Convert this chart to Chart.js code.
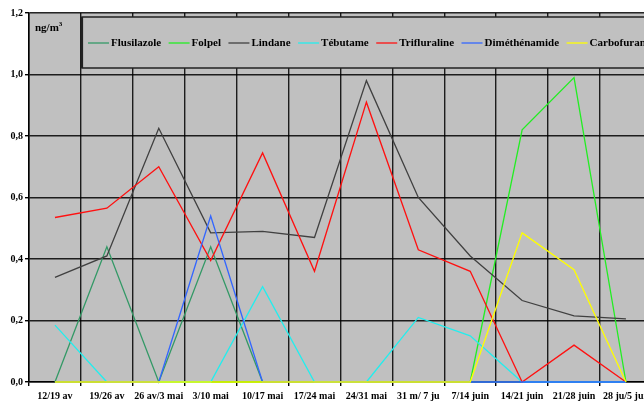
<!DOCTYPE html>
<html>
<head>
<meta charset="utf-8">
<script src="https://cdn.jsdelivr.net/npm/chart.js@4"></script>
<style>
  html, body { margin: 0; padding: 0; background: #fff; overflow: hidden; }
  #wrap { width: 653px; height: 403px; }
</style>
</head>
<body>
<div id="wrap"><canvas id="pestChart" width="653" height="403"></canvas></div>
<script>
const weeks = ['12/19 av', '19/26 av', '26 av/3 mai', '3/10 mai', '10/17 mai', '17/24 mai',
               '24/31 mai', '31 m/ 7 ju', '7/14 juin', '14/21 juin', '21/28 juin', '28 ju/5 juil'];

const flusilazole   = [0, 0.44, 0, 0.44, 0, 0, 0, 0, 0, 0, 0, 0];
const folpel        = [0, 0, 0, 0, 0, 0, 0, 0, 0, 0.82, 0.99, 0];
const lindane       = [0.34, 0.41, 0.825, 0.485, 0.49, 0.47, 0.98, 0.60, 0.41, 0.265, 0.215, 0.205];
const tebutame      = [0.185, 0, 0, 0, 0.31, 0, 0, 0.21, 0.15, 0, 0, 0];
const trifluraline  = [0.535, 0.565, 0.70, 0.395, 0.745, 0.36, 0.91, 0.43, 0.36, 0, 0.12, 0];
const dimethenamide = [0, 0, 0, 0.54, 0, 0, 0, 0, 0, 0, 0, 0];
const carbofuran    = [0, 0, 0, 0, 0, 0, 0, 0, 0, 0.485, 0.365, 0];

const yTicks = [0, 0.2, 0.4, 0.6, 0.8, 1.0, 1.2];

const SERIF = '"Liberation Serif", "Times New Roman", serif';

// later series are painted on top, like the original
function line(label, data, color, order) {
    return {
        label: label,
        data: data,
        borderColor: color,
        backgroundColor: color,
        borderWidth: 1.3,
        pointRadius: 0,
        tension: 0,
        fill: false,
        clip: 3,
        order: order
    };
}

// grey plot background
const plotBg = {
    id: 'plotBg',
    beforeDraw(chart) {
        const a = chart.chartArea, ctx = chart.ctx;
        ctx.save();
        ctx.fillStyle = '#c0c0c0';
        ctx.fillRect(a.left, a.top, a.right - a.left, a.bottom - a.top);
        ctx.restore();
    }
};

// boxed legend inside the plot + unit label
const boxLegend = {
    id: 'boxLegend',
    beforeDatasetsDraw(chart) {
        const ctx = chart.ctx;
        ctx.save();
        ctx.fillStyle = '#c0c0c0';
        ctx.fillRect(82, 17, 600, 51);
        ctx.strokeStyle = '#222';
        ctx.lineWidth = 1.5;
        ctx.strokeRect(82, 17, 600, 51);
        ctx.beginPath();
        ctx.moveTo(82, 17); ctx.lineTo(82, 68);
        ctx.lineWidth = 2.2;
        ctx.stroke();

        ctx.font = 'bold 11px ' + SERIF;
        ctx.textBaseline = 'middle';
        ctx.textAlign = 'left';
        let x = 88;
        const y = 43;
        chart.data.datasets.forEach(ds => {
            ctx.strokeStyle = ds.borderColor;
            ctx.lineWidth = 1.3;
            ctx.beginPath();
            ctx.moveTo(x, y); ctx.lineTo(x + 21, y);
            ctx.stroke();
            ctx.fillStyle = '#000';
            ctx.fillText(ds.label, x + 23, y);
            x += 23 + ctx.measureText(ds.label).width + 7.5;
        });

        // ng/m3
        ctx.font = 'bold 11px ' + SERIF;
        ctx.textBaseline = 'alphabetic';
        ctx.fillText('ng/m', 35, 31);
        const w = ctx.measureText('ng/m').width;
        ctx.font = 'bold 7px ' + SERIF;
        ctx.fillText('3', 35 + w, 26);
        ctx.restore();
    }
};

const ctx = document.getElementById('pestChart').getContext('2d');
const chart = new Chart(ctx, {
    type: 'line',
    data: {
        labels: weeks,
        datasets: [
            line('Flusilazole', flusilazole, '#339966', 7),
            line('Folpel', folpel, '#22ee22', 6),
            line('Lindane', lindane, '#404040', 5),
            line('Tébutame', tebutame, '#22eeee', 4),
            line('Trifluraline', trifluraline, '#ff1010', 3),
            line('Diméthénamide', dimethenamide, '#3366ff', 2),
            line('Carbofuran', carbofuran, '#ffff00', 1)
        ]
    },
    options: {
        responsive: false,
        animation: false,
        layout: { padding: { top: 13, left: 0, right: 0, bottom: 0 } },
        plugins: {
            legend: { display: false },
            tooltip: { enabled: false }
        },
        scales: {
            x: {
                offset: true,
                afterFit(scale) { scale.height = 21; },
                grid: {
                    offset: true,
                    color: 'rgba(0,0,0,0.85)',
                    lineWidth: 1.4,
                    drawTicks: true,
                    tickLength: 4,
                    tickColor: '#000'
                },
                border: { color: '#000', width: 1.5 },
                ticks: {
                    color: '#000',
                    font: { family: SERIF, size: 10, weight: 'bold' },
                    padding: 4,
                    maxRotation: 0,
                    autoSkip: false
                }
            },
            y: {
                min: 0,
                max: 1.2,
                afterFit(scale) { scale.width = 29; },
                afterBuildTicks(scale) { scale.ticks = yTicks.map(v => ({ value: v })); },
                grid: {
                    color: 'rgba(0,0,0,0.85)',
                    lineWidth: 1.4,
                    drawTicks: true,
                    tickLength: 4,
                    tickColor: '#000'
                },
                border: { color: '#000', width: 1.5 },
                ticks: {
                    color: '#000',
                    font: { family: SERIF, size: 10, weight: 'bold' },
                    padding: 2,
                    callback: v => Number(v).toFixed(1).replace('.', ',')
                }
            }
        }
    },
    plugins: [plotBg, boxLegend]
});
</script>
</body>
</html>
